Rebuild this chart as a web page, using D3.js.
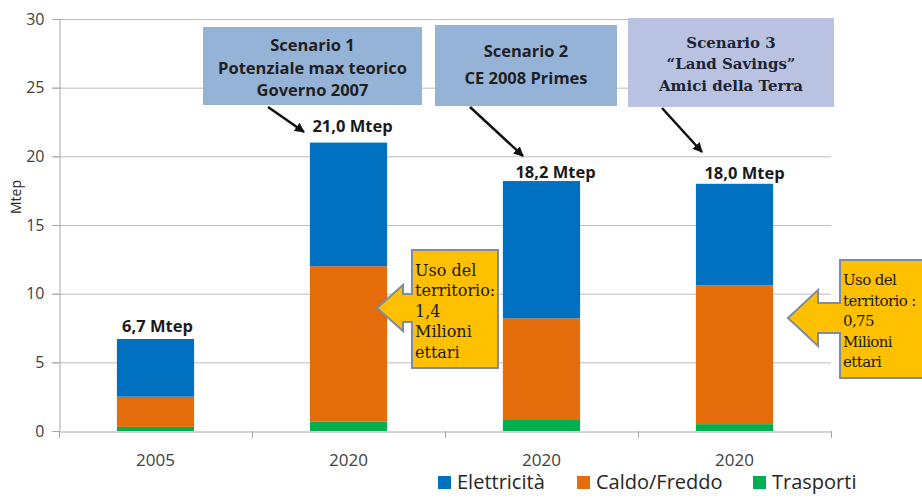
<!DOCTYPE html>
<html>
<head>
<meta charset="utf-8">
<script src="https://cdn.jsdelivr.net/npm/d3@7"></script>
<style>
  html, body { margin: 0; padding: 0; background: #fff; }
  svg { display: block; }
</style>
</head>
<body>
<svg id="chart" width="922" height="501"></svg>
<script>
// ---- data ----
const categories = ["2005", "2020", "2020", "2020"];
const keys = ["c0", "c1", "c2", "c3"];
const seriesNames = ["Trasporti", "Caldo/Freddo", "Elettricità"];
const trasporti = [0.3, 0.7, 0.8, 0.5];
const caldoFreddo = [2.2, 11.3, 7.4, 10.1];
const elettricita = [4.2, 9.0, 10.0, 7.4];
const totalLabels = ["6,7 Mtep", "21,0 Mtep", "18,2 Mtep", "18,0 Mtep"];
const yTicks = [0, 5, 10, 15, 20, 25, 30];
const legendNames = ["Elettricità", "Caldo/Freddo", "Trasporti"];
const scenarioTitles = [
  ["Scenario 1", "Potenziale max teorico", "Governo 2007"],
  ["Scenario 2", "CE 2008 Primes"],
  ["Scenario 3", "\u201CLand Savings\u201D", "Amici della Terra"]
];
const calloutTexts = [
  ["Uso del", "territorio:", "1,4", "Milioni", "ettari"],
  ["Uso del", "territorio :", "0,75", "Milioni", "ettari"]
];

// ---- setup ----
const svg = d3.select("#chart");
const colors = { "Elettricità": "#0070c0", "Caldo/Freddo": "#e46c0a", "Trasporti": "#00b050" };
const x0 = 59, x1 = 831, yTop = 19, yBot = 431;

const x = d3.scaleBand().domain(keys).range([x0, x1]).paddingInner(0.6).paddingOuter(0.3);
const y = d3.scaleLinear().domain([0, 30]).range([yBot, yTop]);

const rows = keys.map((k, i) => ({
  key: k, "Trasporti": trasporti[i], "Caldo/Freddo": caldoFreddo[i], "Elettricità": elettricita[i]
}));
const stacked = d3.stack().keys(seriesNames)(rows);

// gridlines
svg.append("g")
  .selectAll("line").data(yTicks.filter(d => d > 0)).join("line")
  .attr("x1", x0 - 7).attr("x2", x1)
  .attr("y1", d => y(d) + 0.5).attr("y2", d => y(d) + 0.5)
  .attr("stroke", "#bdbdbd").attr("stroke-width", 1);

// y axis
const yAxis = svg.append("g").attr("transform", `translate(${x0 + 0.5},0)`)
  .call(d3.axisLeft(y).tickValues(yTicks).tickSize(7).tickPadding(8));
yAxis.select(".domain").attr("stroke", "#a6a6a6");
yAxis.selectAll(".tick line").attr("stroke", "#a6a6a6");
yAxis.selectAll("text").attr("font-family", "Open Sans").attr("font-size", 16).attr("fill", "#404040");

// x axis
const xAxis = svg.append("g").attr("transform", `translate(0,${yBot + 0.5})`)
  .call(d3.axisBottom(x).tickSize(0).tickPadding(22).tickFormat((d, i) => categories[i]));
xAxis.select(".domain").attr("stroke", "#a6a6a6");
xAxis.selectAll("text").attr("font-family", "Open Sans").attr("font-size", 17).attr("fill", "#404040");
// boundary ticks
const bounds = keys.map(k => x(k) - x.step() * x.paddingInner() / 2).concat([x1]);
svg.append("g").selectAll("line").data(bounds).join("line")
  .attr("x1", d => Math.round(d) + 0.5).attr("x2", d => Math.round(d) + 0.5)
  .attr("y1", yBot).attr("y2", yBot + 7)
  .attr("stroke", "#a6a6a6");

// y label
svg.append("text").attr("transform", "translate(21,197) rotate(-90)")
  .attr("text-anchor", "middle").attr("font-family", "Open Sans").attr("font-size", 14)
  .attr("fill", "#262626").text("Mtep");

// bars
svg.append("g").selectAll("g").data(stacked).join("g")
  .attr("fill", d => colors[d.key])
  .selectAll("rect").data(d => d).join("rect")
  .attr("x", d => x(d.data.key)).attr("width", x.bandwidth())
  .attr("y", d => y(d[1])).attr("height", d => y(d[0]) - y(d[1]));

// total labels
const totals = keys.map((k, i) => trasporti[i] + caldoFreddo[i] + elettricita[i]);
const labelDx = [2, 4, 14, 10], labelDy = [-7, -11, -3, -5];
svg.append("g").selectAll("text").data(totals).join("text")
  .attr("x", (d, i) => x(keys[i]) + x.bandwidth() / 2 + labelDx[i])
  .attr("y", (d, i) => y(d) + labelDy[i])
  .attr("text-anchor", "middle").attr("font-family", "Open Sans").attr("font-weight", "bold")
  .attr("font-size", 16.5).attr("fill", "#1a1a1a")
  .text((d, i) => totalLabels[i]);

// scenario boxes
const boxes = [
  { x: 203, y: 27, w: 219, h: 78, fill: "#95b3d7", font: "Open Sans", size: 16.5, lines: [45, 68, 90] },
  { x: 435, y: 25, w: 182, h: 81, fill: "#95b3d7", font: "Open Sans", size: 16.5, lines: [51, 78] },
  { x: 628, y: 18, w: 206, h: 89, fill: "#b9c3e1", font: "DejaVu Serif", size: 15, lines: [43, 64, 86] }
];
boxes.forEach((b, i) => {
  svg.append("rect").attr("x", b.x).attr("y", b.y).attr("width", b.w).attr("height", b.h).attr("fill", b.fill);
  svg.append("g").selectAll("text").data(scenarioTitles[i]).join("text")
    .attr("x", b.x + b.w / 2).attr("y", (d, j) => b.lines[j])
    .attr("dy", "0.36em").attr("text-anchor", "middle")
    .attr("font-family", b.font).attr("font-weight", "bold").attr("font-size", b.size)
    .attr("fill", i === 2 ? "#1b2335" : "#1f1f1f")
    .text(d => d);
});

// arrows
svg.append("defs").append("marker").attr("id", "ah")
  .attr("viewBox", "0 0 10 10").attr("refX", 9).attr("refY", 5)
  .attr("markerWidth", 4).attr("markerHeight", 4).attr("orient", "auto")
  .append("path").attr("d", "M0,0 L10,5 L0,10 Z").attr("fill", "#111");
const arrows = [[268, 107, 304, 132], [470, 107, 523, 156], [662, 108, 702, 152]];
svg.append("g").selectAll("line").data(arrows).join("line")
  .attr("x1", d => d[0]).attr("y1", d => d[1]).attr("x2", d => d[2]).attr("y2", d => d[3])
  .attr("stroke", "#111").attr("stroke-width", 2.5).attr("marker-end", "url(#ah)");

// callouts
const callouts = [
  { bx: 412, bx2: 498, by: 250, by2: 368, nx: 403, tipX: 377, tipY: 308, neck: 14, barb: 23, tx: 415, ty: 270, fs: 16, ls: 0 },
  { bx: 840, bx2: 940, by: 260, by2: 378, nx: 818, tipX: 788, tipY: 318, neck: 15, barb: 28, tx: 843, ty: 280, fs: 15, ls: -0.6 }
];
callouts.forEach((c, i) => {
  const p = `M${c.bx},${c.by} H${c.bx2} V${c.by2} H${c.bx} V${c.tipY + c.neck} H${c.nx} V${c.tipY + c.barb} L${c.tipX},${c.tipY} L${c.nx},${c.tipY - c.barb} V${c.tipY - c.neck} H${c.bx} Z`;
  svg.append("path").attr("d", p).attr("fill", "#ffc000").attr("stroke", "#7d8ba3").attr("stroke-width", 2);
  svg.append("g").selectAll("text").data(calloutTexts[i]).join("text")
    .attr("x", c.tx).attr("y", (d, j) => c.ty + j * 20.5)
    .attr("dy", "0.36em").attr("font-family", "DejaVu Serif").attr("font-size", c.fs)
    .attr("letter-spacing", c.ls)
    .attr("fill", "#1a1a1a").text(d => d);
});

// legend
const legendX = [438, 577, 753];
const lg = svg.append("g").selectAll("g").data(legendNames).join("g")
  .attr("transform", (d, i) => `translate(${legendX[i]},482)`);
lg.append("rect").attr("x", 0).attr("y", -6).attr("width", 13).attr("height", 13).attr("fill", d => colors[d]);
lg.append("text").attr("x", 19).attr("y", 0).attr("dy", "0.36em")
  .attr("font-family", "Open Sans").attr("font-size", 20).attr("fill", "#262626").text(d => d);
</script>
</body>
</html>
